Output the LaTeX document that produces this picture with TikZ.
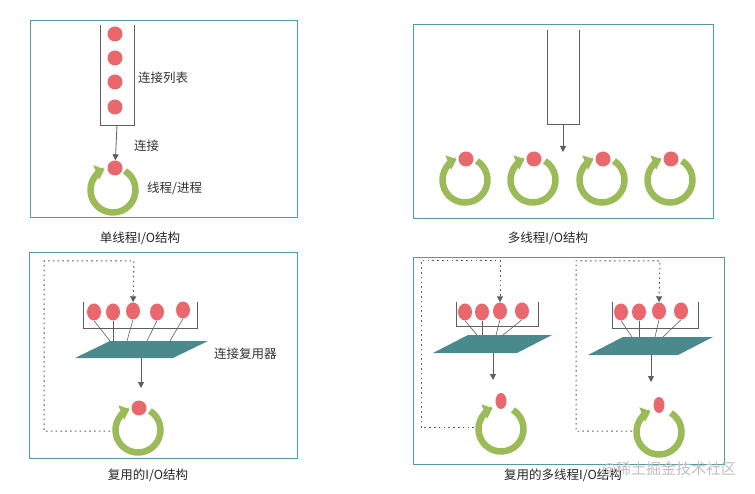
\documentclass[tikz,border=0pt]{standalone}
\usepackage{fontspec}
\setmainfont{Noto Sans CJK SC}
\usetikzlibrary{arrows.meta,calc,shapes.geometric}
\definecolor{framec}{HTML}{4E9AA6}
\definecolor{dotred}{HTML}{E8686E}
\definecolor{ringgreen}{HTML}{9BBB59}
\definecolor{muxteal}{HTML}{4A8A8C}
\definecolor{linegray}{HTML}{5F5F5F}
\tikzset{
  panel/.style={draw=framec, line width=0.9pt},
  dot/.style={circle, fill=dotred, inner sep=0pt, minimum size=15pt},
  edot/.style={ellipse, fill=dotred, inner sep=0pt, minimum width=14pt, minimum height=17pt},
  sdot/.style={ellipse, fill=dotred, inner sep=0pt, minimum width=11pt, minimum height=16pt},
  lbl/.style={font=\fontsize{12.5}{14}\selectfont, text=black!80, anchor=west, inner sep=0pt},
  captxt/.style={font=\fontsize{12.5}{14}\selectfont, text=black!85, inner sep=0pt},
  boxline/.style={draw=linegray, line width=0.8pt},
  conn/.style={draw=linegray, line width=0.8pt, -{Triangle[width=6pt,length=6pt]}},
  tie/.style={draw=linegray, line width=0.6pt},
  dots/.style={draw=linegray, line width=1pt, dash pattern=on 1.6pt off 3.2pt, -{Triangle[width=6pt,length=6pt]}},
  ring/.style={draw=ringgreen, line width=6.5pt, -{Triangle[width=15pt,length=9pt]}},
  mux/.style={fill=muxteal, draw=none}
}
\newcommand\greenring[1]{\draw[ring] ($(#1)+(-58:22.5)$) arc[start angle=-58, end angle=248, radius=22.5];}
\begin{document}
\begin{tikzpicture}[x=1pt,y=-1pt]
\useasboundingbox[fill=white] (0,0) rectangle (755,494);

% ---------- Panel 1 ----------
\draw[panel] (30,20) rectangle (297,217);
\draw[boxline] (100,25) -- (100,125) -- (134,125) -- (134,25);
\node[dot] (l1) at (115,34) {};
\node[dot] (l2) at (115,58) {};
\node[dot] (l3) at (115,82) {};
\node[dot] (l4) at (115,107) {};
\node[lbl] (t1) at (138,78) {连接列表};
\coordinate (lb) at (117,125);
\coordinate (rc1) at (113,190);
\greenring{rc1}
\node[dot] (d1) at (115,168) {};
\draw[conn] (lb) -- (d1);
\node[lbl] (t2) at (134,146) {连接};
\node[lbl] (t3) at (147,188) {线程/进程};
\node[captxt] (c1) at (140,238) {单线程I/O结构};

% ---------- Panel 2 ----------
\draw[panel] (413,24) rectangle (713,218);
\draw[boxline] (547,30) -- (547,124) -- (579,124) -- (579,30);
\coordinate (u) at (563,124);
\coordinate (ue) at (563,152);
\draw[conn] (u) -- (ue);
\coordinate (r21) at (465,180);
\coordinate (r22) at (533,180);
\coordinate (r23) at (602,180);
\coordinate (r24) at (670,180);
\greenring{r21}\greenring{r22}\greenring{r23}\greenring{r24}
\node[dot] (m1) at (466,159) {};
\node[dot] (m2) at (534,159) {};
\node[dot] (m3) at (603,159) {};
\node[dot] (m4) at (671,159) {};
\node[captxt] (c2) at (548,238) {多线程I/O结构};

% ---------- Panel 3 ----------
\draw[panel] (29,252) rectangle (297,458);
\draw[boxline] (83,302) -- (83,328) -- (197,328) -- (197,302);
\node[edot] (p1) at (94,312) {};
\node[edot] (p2) at (113,312) {};
\node[edot] (p3) at (133,311) {};
\node[edot] (p4) at (157,312) {};
\node[edot] (p5) at (183,310) {};
\coordinate (q1) at (110,341);
\coordinate (q2) at (113,341);
\coordinate (q3) at (127,341);
\coordinate (q4) at (147,341);
\coordinate (q5) at (170,341);
\foreach \i in {1,...,5} \draw[tie] (p\i.south) -- (q\i);
\path[mux] (110,341) -- (208,341) -- (173,358) -- (75,358) -- cycle;
\node[lbl] (t4) at (214,354) {连接复用器};
\coordinate (mo) at (141,358);
\coordinate (me) at (141,388);
\draw[conn] (mo) -- (me);
\coordinate (rc3) at (138,430);
\greenring{rc3}
\node[dot] (d3) at (139,408) {};
\coordinate (s3) at (110,431);
\draw[dots] (s3) -- (44,431) -- (44,261) -- (134,261) -- (p3.north);
\node[captxt] (c3) at (148,475) {复用的I/O结构};

% ---------- Panel 4 ----------
\draw[panel] (413,257) rectangle (724,464);
% sub A
\draw[boxline] (456,302) -- (456,326) -- (538,326) -- (538,302);
\node[edot] (a1) at (465,312) {};
\node[edot] (a2) at (482,312) {};
\node[edot] (a3) at (500,311) {};
\node[edot] (a4) at (522,311) {};
\coordinate (aq1) at (477,335);
\coordinate (aq2) at (482,335);
\coordinate (aq3) at (496,335);
\coordinate (aq4) at (503,335);
\foreach \i in {1,...,4} \draw[tie] (a\i.south) -- (aq\i);
\path[mux] (468,335) -- (552,335) -- (517,353) -- (433,353) -- cycle;
\coordinate (ao) at (493,353);
\coordinate (ae) at (493,380);
\draw[conn] (ao) -- (ae);
\coordinate (rA) at (501,429);
\greenring{rA}
\node[sdot] (dA) at (501,401) {};
\coordinate (sA) at (474,427);
\draw[dots] (sA) -- (421,427) -- (421,261) -- (500,261) -- (a3.north);
% sub B
\draw[boxline] (612,302) -- (612,328) -- (698,328) -- (698,302);
\node[edot] (b1) at (621,312) {};
\node[edot] (b2) at (639,312) {};
\node[edot] (b3) at (659,311) {};
\node[edot] (b4) at (681,311) {};
\coordinate (bq1) at (632,337);
\coordinate (bq2) at (639,337);
\coordinate (bq3) at (655,337);
\coordinate (bq4) at (663,337);
\foreach \i in {1,...,4} \draw[tie] (b\i.south) -- (bq\i);
\path[mux] (623,337) -- (713,337) -- (678,355) -- (588,355) -- cycle;
\coordinate (bo) at (651,355);
\coordinate (be) at (651,382);
\draw[conn] (bo) -- (be);
\coordinate (rB) at (659,432);
\greenring{rB}
\node[sdot] (dB) at (659,405) {};
\coordinate (sB) at (632,431);
\draw[dots] (sB) -- (576,431) -- (576,261) -- (660,261) -- (b3.north);
\node[captxt] (c4) at (563,475) {复用的多线程I/O结构};
\node[font=\fontsize{15}{17}\selectfont, text=black!25, inner sep=0pt] (wm) at (669,469) {@稀土掘金技术社区};
\end{tikzpicture}
\end{document}
